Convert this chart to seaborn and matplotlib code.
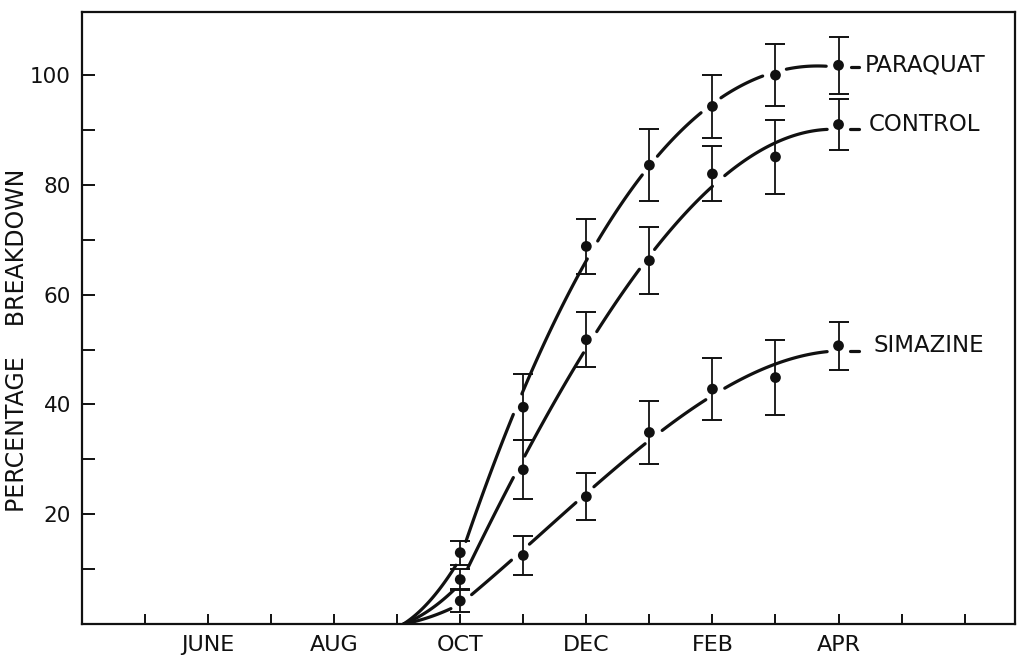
import numpy as np
import pandas as pd
import matplotlib
matplotlib.use("Agg")
import matplotlib.pyplot as plt
import seaborn as sns

# ---------------- data ----------------
month_ticks = list(range(1, 15))
month_labels = ["", "JUNE", "", "AUG", "", "OCT", "", "DEC", "", "FEB", "", "APR", "", ""]
sample_months = [6, 7, 8, 9, 10, 11, 12]          # OCT .. APR
start_month = 5.1                                  # curves leave the axis here

paraquat = [13.0, 39.5, 68.8, 83.6, 94.3, 100.0, 101.8]
paraquat_err = [2.2, 6.0, 5.0, 6.6, 5.7, 5.7, 5.2]
control = [8.1, 28.1, 51.8, 66.2, 82.0, 85.1, 91.0]
control_err = [1.9, 5.4, 5.0, 6.1, 5.0, 6.8, 4.6]
simazine = [4.2, 12.5, 23.2, 34.9, 42.8, 44.9, 50.7]
simazine_err = [2.1, 3.5, 4.3, 5.8, 5.6, 6.9, 4.4]

series_names = ["PARAQUAT", "CONTROL", "SIMAZINE"]
series_values = [paraquat, control, simazine]
series_errors = [paraquat_err, control_err, simazine_err]

y_major = [20, 40, 60, 80, 100]
y_minor = [10, 30, 50, 70, 90]

# ---------------- style ----------------
sns.set_theme(style="white")
plt.rcParams["font.family"] = ["DejaVu Sans"]
INK = "#111111"

fig = plt.figure(figsize=(10.22, 6.57), dpi=100)
ax = fig.add_axes([0.0802, 0.0502, 0.913, 0.9315])
ax.set_xlim(0, 14.8)
ax.set_ylim(0, 111.5)


def smooth_curve(vals):
    """Smooth fitted curve drawn through the sample points (for display)."""
    xs = np.array(sample_months, dtype=float)
    ys = np.array(vals, dtype=float)
    coef = np.polyfit(xs, ys, 3)
    xx = np.linspace(xs[0], xs[-1], 400)
    yy = np.polyval(coef, xx)
    # rising lead-in from the axis to the first sample month
    h = xs[0] - start_month
    y1 = np.polyval(coef, xs[0])
    b = 0.55 * y1 / h
    a = (y1 - b * h) / h ** 2
    xl = np.linspace(start_month, xs[0], 80)
    yl = a * (xl - start_month) ** 2 + b * (xl - start_month)
    # short flat tail after the last sample
    xt = np.linspace(xs[-1], xs[-1] + 0.33, 40)
    yt = np.full_like(xt, yy[-1])
    cx = np.concatenate([xl[:-1], xx, xt[1:]])
    cy = np.concatenate([yl[:-1], yy, yt[1:]])
    return cx, np.clip(cy, 0, None)


# ---------------- smooth curves with gaps around the points ----------------
GAP_PX = 12
frames = []
seg_id = 0
for name, vals in zip(series_names, series_values):
    cx, cy = smooth_curve(vals)
    disp = ax.transData.transform(np.column_stack([cx, cy]))
    pdisp = ax.transData.transform(np.column_stack([sample_months, vals]))
    d = np.min(np.hypot(disp[:, None, 0] - pdisp[None, :, 0],
                        disp[:, None, 1] - pdisp[None, :, 1]), axis=1)
    keep = d > GAP_PX
    prev = False
    segs = np.full(len(cx), -1)
    for i, k in enumerate(keep):
        if k and not prev:
            seg_id += 1
        if k:
            segs[i] = seg_id
        prev = k
    df = pd.DataFrame({"x": cx, "y": cy, "seg": segs, "series": name})
    frames.append(df[df["seg"] >= 0])

curves = pd.concat(frames, ignore_index=True)
sns.lineplot(data=curves, x="x", y="y", units="seg", estimator=None,
             color=INK, linewidth=2.3, sort=False, ax=ax, legend=False)

# ---------------- points and error bars ----------------
points = pd.DataFrame({
    "month": sample_months * 3,
    "value": paraquat + control + simazine,
    "err": paraquat_err + control_err + simazine_err,
    "series": sum([[n] * len(sample_months) for n in series_names], []),
})
ax.errorbar(points["month"], points["value"], yerr=points["err"], fmt="none",
            ecolor=INK, elinewidth=1.3, capsize=7, capthick=1.4, zorder=3)
sns.scatterplot(data=points, x="month", y="value", color=INK, s=60,
                edgecolor="none", zorder=4, ax=ax, legend=False)

# ---------------- series labels ----------------
label_x = [12.42, 12.48, 12.56]
for name, vals, lx in zip(series_names, series_values, label_x):
    ax.text(lx, vals[-1], name, ha="left", va="center", fontsize=16.5, color=INK)

# ---------------- axes ----------------
ax.set_xticks(month_ticks)
ax.set_xticklabels(month_labels)
ax.set_yticks(y_major)
ax.set_yticks(y_minor, minor=True)
ax.tick_params(axis="x", direction="in", length=7, width=1.4, pad=8,
               labelsize=16, colors=INK, bottom=True)
ax.tick_params(axis="y", which="both", direction="in", length=9, width=1.4,
               pad=8, labelsize=15.5, colors=INK, left=True)
for sp in ax.spines.values():
    sp.set_visible(True)
    sp.set_color(INK)
    sp.set_linewidth(1.6)

ax.set_xlabel("")
ax.set_ylabel("PERCENTAGE    BREAKDOWN", fontsize=17, color=INK)
ax.yaxis.set_label_coords(-0.057, 0.464)

fig.savefig("out.png", dpi=100, facecolor="white")
